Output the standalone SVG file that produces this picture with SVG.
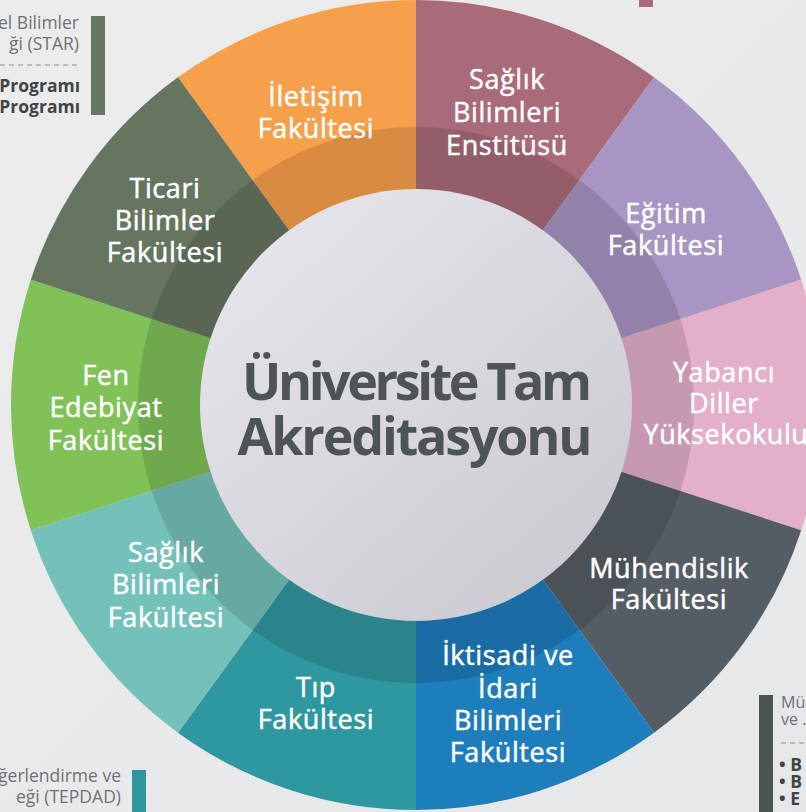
<svg xmlns="http://www.w3.org/2000/svg" width="806" height="812" viewBox="0 0 806 812">
<defs>
<linearGradient id="bg" x1="0" y1="0" x2="1" y2="1">
<stop offset="0" stop-color="#ececec"/>
<stop offset="1" stop-color="#e6e7e9"/>
</linearGradient>
<linearGradient id="core" x1="0.15" y1="0.1" x2="0.85" y2="0.9">
<stop offset="0" stop-color="#e4e4ea"/>
<stop offset="1" stop-color="#cbcbd1"/>
</linearGradient>
<style>
.lbl{font-family:"Open Sans","DejaVu Sans",sans-serif;font-weight:500;font-size:27px;fill:#ffffff;stroke:#ffffff;stroke-width:0.5px;text-anchor:middle;letter-spacing:0.6px}
.title{font-family:"Open Sans","DejaVu Sans",sans-serif;font-weight:bold;font-size:52px;fill:#4e5355;text-anchor:middle}
.side{font-family:"Open Sans","DejaVu Sans",sans-serif;font-weight:400;font-size:17.5px;fill:#6f7274}
.sideb{font-family:"Open Sans","DejaVu Sans",sans-serif;font-weight:bold;font-size:17.5px;fill:#3f4446}
.dash{stroke:#8a8d8f;stroke-width:1;stroke-dasharray:5 4;fill:none}
</style>
</defs>
<rect width="806" height="812" fill="url(#bg)"/>

<g id="side-notes">
<text class="side" x="79" y="29" text-anchor="end">el Bilimler</text>
<text class="side" x="79" y="50" text-anchor="end">ği (STAR)</text>
<line class="dash" x1="0" y1="65" x2="79" y2="65"/>
<text class="sideb" x="80" y="92" text-anchor="end">Programı</text>
<text class="sideb" x="80" y="113" text-anchor="end">Programı</text>
<rect x="91" y="16" width="14" height="99" fill="#66765f"/>
<rect x="639" y="0" width="14" height="7" fill="#a96a79"/>
<rect x="759" y="695" width="14" height="117" fill="#4d5254"/>
<text class="side" x="781" y="708" style="font-size:16px">Mü</text>
<text class="side" x="781" y="725" style="font-size:16px">ve .</text>
<line class="dash" x1="781" y1="743" x2="806" y2="743"/>
<text class="sideb" x="779" y="771">• B</text>
<text class="sideb" x="779" y="788">• B</text>
<text class="sideb" x="779" y="805">• E</text>
<text class="side" x="121" y="782" text-anchor="end">ğerlendirme ve</text>
<text class="side" x="121" y="803" text-anchor="end">eği (TEPDAD)</text>
<rect x="132" y="770" width="14" height="42" fill="#2e969e"/>
</g>

<g id="connectors"></g>

<g id="seg-iletisim">
<path d="M416,405 L177.94,77.35 A405,405 0 0,1 416,0 Z" fill="#f7a04b"/>
</g>
<g id="seg-saglik-enstitusu">
<path d="M416,405 L416,0 A405,405 0 0,1 654.06,77.35 Z" fill="#a96a79"/>
</g>
<g id="seg-egitim">
<path d="M416,405 L654.06,77.35 A405,405 0 0,1 801.19,279.85 Z" fill="#a795c3"/>
</g>
<g id="seg-yabanci">
<path d="M416,405 L801.19,279.85 A405,405 0 0,1 801.19,530.15 Z" fill="#e3afc9"/>
</g>
<g id="seg-muhendislik">
<path d="M416,405 L801.19,530.15 A405,405 0 0,1 654.06,732.65 Z" fill="#555d64"/>
</g>
<g id="seg-iktisadi">
<path d="M416,405 L654.06,732.65 A405,405 0 0,1 416,810 Z" fill="#1e7dbb"/>
</g>
<g id="seg-tip">
<path d="M416,405 L416,810 A405,405 0 0,1 177.94,732.65 Z" fill="#2f979f"/>
</g>
<g id="seg-saglik-fakultesi">
<path d="M416,405 L177.94,732.65 A405,405 0 0,1 30.81,530.15 Z" fill="#73c1b9"/>
</g>
<g id="seg-fen">
<path d="M416,405 L30.81,530.15 A405,405 0 0,1 30.81,279.85 Z" fill="#80c158"/>
</g>
<g id="seg-ticari">
<path d="M416,405 L30.81,279.85 A405,405 0 0,1 177.94,77.35 Z" fill="#65755f"/>
</g>

<circle cx="416" cy="405" r="278" fill="#000000" fill-opacity="0.12"/>

<g id="labels">
<text class="lbl" x="316" y="106">İletişim</text>
<text class="lbl" x="316" y="138">Fakültesi</text>
<text class="lbl" x="507" y="89">Sağlık</text>
<text class="lbl" x="507" y="122">Bilimleri</text>
<text class="lbl" x="507" y="155">Enstitüsü</text>
<text class="lbl" x="666" y="223">Eğitim</text>
<text class="lbl" x="666" y="255">Fakültesi</text>
<text class="lbl" x="724" y="382">Yabancı</text>
<text class="lbl" x="724" y="413">Diller</text>
<text class="lbl" x="726" y="444">Yüksekokulu</text>
<text class="lbl" x="669" y="578">Mühendislik</text>
<text class="lbl" x="669" y="609">Fakültesi</text>
<text class="lbl" x="508" y="665">İktisadi ve</text>
<text class="lbl" x="508" y="698">İdari</text>
<text class="lbl" x="508" y="730">Bilimleri</text>
<text class="lbl" x="508" y="762">Fakültesi</text>
<text class="lbl" x="316" y="697">Tıp</text>
<text class="lbl" x="316" y="729">Fakültesi</text>
<text class="lbl" x="166" y="562">Sağlık</text>
<text class="lbl" x="166" y="594">Bilimleri</text>
<text class="lbl" x="166" y="627">Fakültesi</text>
<text class="lbl" x="106" y="385">Fen</text>
<text class="lbl" x="106" y="417">Edebiyat</text>
<text class="lbl" x="106" y="450">Fakültesi</text>
<text class="lbl" x="165" y="198">Ticari</text>
<text class="lbl" x="165" y="230">Bilimler</text>
<text class="lbl" x="165" y="262">Fakültesi</text>
</g>

<g id="center">
<circle cx="416" cy="405" r="216" fill="url(#core)"/>
<text class="title" x="417" y="400" textLength="350" lengthAdjust="spacing">Üniversite Tam</text>
<text class="title" x="415" y="455" textLength="355" lengthAdjust="spacing">Akreditasyonu</text>
</g>
</svg>
